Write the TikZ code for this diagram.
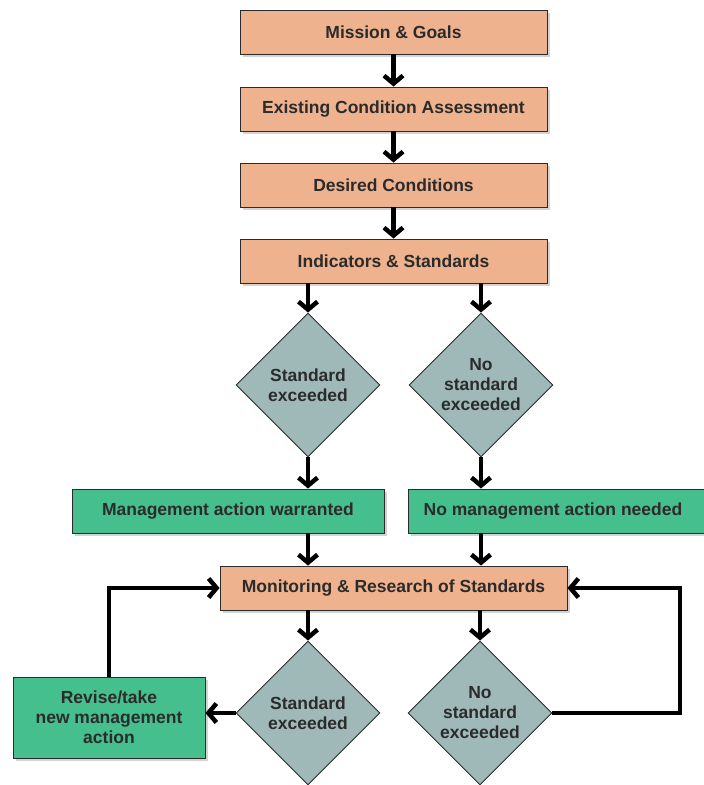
\documentclass[tikz,border=0pt]{standalone}
\usepackage{fontspec}
\setmainfont{Liberation Sans}
\usetikzlibrary{shapes.geometric,arrows.meta,shadows}
\definecolor{peach}{HTML}{EFB28E}
\definecolor{teal}{HTML}{46BF8F}
\definecolor{slate}{HTML}{9EB9B8}
\definecolor{ink}{HTML}{2B2B2B}
\tikzset{
  base/.style={draw=ink, line width=0.9pt, text=ink, font=\fontsize{17.5}{20}\selectfont\bfseries, align=center, inner sep=0pt},
  obox/.style={base, rectangle, fill=peach, minimum height=44pt,
     drop shadow={shadow xshift=2.5pt, shadow yshift=-2.5pt, opacity=0.35}},
  gbox/.style={base, rectangle, fill=teal, minimum height=44pt,
     drop shadow={shadow xshift=2.5pt, shadow yshift=-2.5pt, opacity=0.35}},
  dia/.style={base, diamond, aspect=1, fill=slate, minimum width=144pt, minimum height=144pt},
  arr/.style={line width=4.5pt, -{Straight Barb[length=8pt,width=19pt]}},
  loop/.style={line width=3.5pt},
}
\begin{document}
\begin{tikzpicture}[x=1pt,y=-1pt]
\useasboundingbox (0,0) rectangle (704,785);
\node[obox, minimum width=307pt] (mg)  at (393.5,32)  {Mission \& Goals};
\node[obox, minimum width=307pt] (eca) at (393.5,109) {Existing Condition Assessment};
\node[obox, minimum width=307pt] (dc)  at (393.5,185) {Desired Conditions};
\node[obox, minimum width=307pt] (is)  at (393.5,261) {Indicators \& Standards};
\node[dia] (d1) at (308,385) {Standard\\exceeded};
\node[dia] (d2) at (481,385) {No\\standard\\exceeded};
\node[gbox, minimum width=312pt] (g1) at (228,511) {Management action warranted};
\node[gbox, minimum width=302pt] (g2) at (559,511) {\hspace*{-12pt}No management action needed};
\node[obox, minimum width=347pt] (mon) at (393.5,588) {Monitoring \& Research of Standards};
\node[dia] (d3) at (308,713) {Standard\\exceeded};
\node[dia] (d4) at (480,713) {No\\standard\\exceeded};
\node[gbox, minimum width=192pt, minimum height=81pt] (rev) at (109,717.5) {Revise/take\\new management\\action};
\coordinate (rc) at (680,650);

\draw[arr] (mg.south) -- (eca.north);
\draw[arr] (eca.south) -- (dc.north);
\draw[arr] (dc.south) -- (is.north);
\draw[arr] (d1.north |- is.south) -- (d1.north);
\draw[arr] (d2.north |- is.south) -- (d2.north);
\draw[arr] (d1.south) -- (d1.south |- g1.north);
\draw[arr] (d2.south) -- (d2.south |- g2.north);
\draw[arr] (d1.south |- g1.south) -- (d1.south |- mon.north);
\draw[arr] (d2.south |- g2.south) -- (d2.south |- mon.north);
\draw[arr] (d3.north |- mon.south) -- (d3.north);
\draw[arr] (d4.north |- mon.south) -- (d4.north);
\draw[arr] (d3.west) -- (rev.east |- d3.west);
\draw[loop] (rev.north) -- (rev.north |- mon.west);
\draw[arr] ([xshift=-1.75pt]rev.north |- mon.west) -- (mon.west);
\draw[loop] (d4.east) -- (d4.east -| rc) -- (rc |- mon.east);
\draw[arr] ([xshift=1.75pt]rc |- mon.east) -- (mon.east);
\end{tikzpicture}
\end{document}
